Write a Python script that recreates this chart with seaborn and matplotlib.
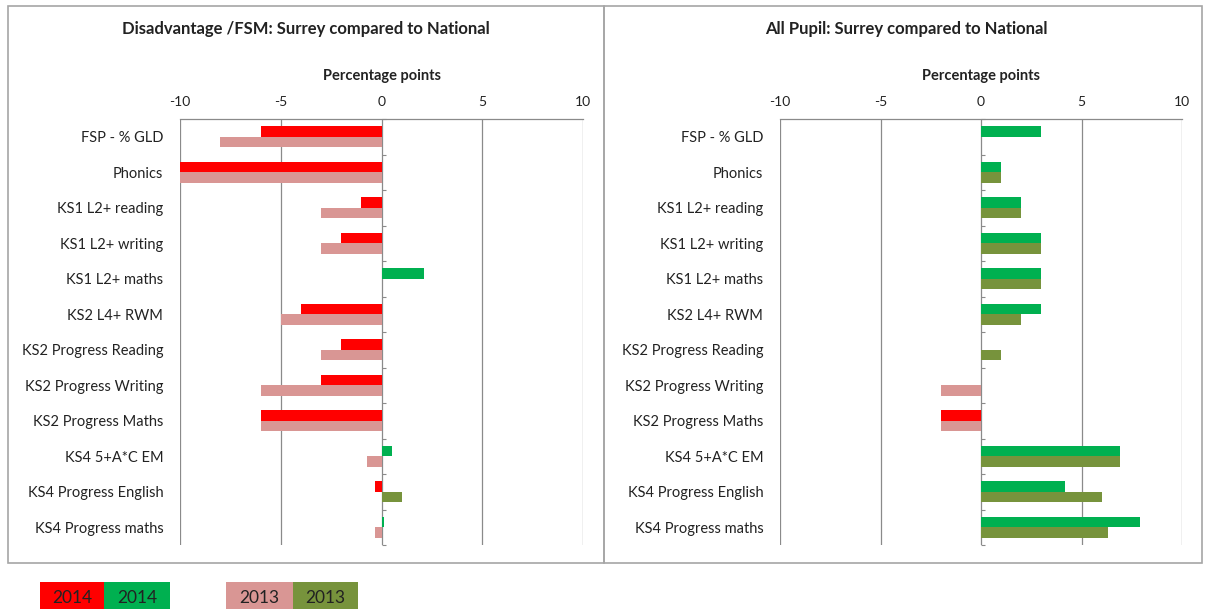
import pandas as pd
import matplotlib.pyplot as plt
import seaborn as sns
from matplotlib.patches import Rectangle

# categories and values (percentage points, Surrey minus National)
categories = ['FSP - % GLD', 'Phonics', 'KS1 L2+ reading', 'KS1 L2+ writing',
              'KS1 L2+ maths', 'KS2 L4+ RWM', 'KS2 Progress Reading',
              'KS2 Progress Writing', 'KS2 Progress Maths', 'KS4 5+A*C EM',
              'KS4 Progress English', 'KS4 Progress maths']

fsm_2014 = [-6, -10, -1, -2, 2.1, -4, -2, -3, -6, 0.5, -0.3, 0.1]
fsm_2013 = [-8, -10, -3, -3, 0, -5, -3, -6, -6, -0.7, 1.0, -0.3]

all_2014 = [3, 1, 2, 3, 3, 3, 0, 0, -2, 6.9, 4.2, 7.9]
all_2013 = [0, 1, 2, 3, 3, 2, 1, -2, -2, 6.9, 6.0, 6.3]

years = ['2014', '2013']
x_ticks = [-10, -5, 0, 5, 10]

# colours: by year and sign
neg_colors = {'2014': '#FF0000', '2013': '#D99694'}
pos_colors = {'2014': '#00B050', '2013': '#77933C'}

sns.set_style('white')
plt.rcParams['font.family'] = ['Lato', 'DejaVu Sans']
plt.rcParams['axes.unicode_minus'] = False

W, H = 1210, 609
fig = plt.figure(figsize=(W / 100, H / 100), dpi=100)
GREY = '#8a8a8a'
TXT = '#222222'


def fx(px):
    return px / W


def fy(py):
    return 1 - py / H


def make_df(v14, v13):
    rows = []
    for c, a, b in zip(categories, v14, v13):
        rows.append({'category': c, 'year': '2014', 'value': a})
        rows.append({'category': c, 'year': '2013', 'value': b})
    return pd.DataFrame(rows)


def draw_panel(ax, df):
    sns.barplot(data=df, y='category', x='value', hue='year', hue_order=years,
                order=categories, orient='h', dodge=True, width=0.6,
                ax=ax, legend=False, errorbar=None, saturation=1)
    # recolour each bar by its sign
    for year, cont in zip(years, ax.containers):
        for bar in cont:
            w = bar.get_width()
            bar.set_facecolor(pos_colors[year] if w > 0 else neg_colors[year])
            bar.set_edgecolor('none')

    ax.set_xlim(-10, 10)
    ax.set_ylim(len(categories) - 0.5, -0.5)
    ax.set_xticks(x_ticks)
    ax.xaxis.tick_top()
    ax.set_xlabel('')
    ax.set_ylabel('')
    ax.tick_params(axis='x', length=0, labelsize=10, colors=TXT, pad=8)
    ax.tick_params(axis='y', length=0, labelsize=10.5, colors=TXT, pad=12)
    ax.grid(axis='x', color=GREY, linewidth=0.9)
    ax.grid(axis='y', visible=False)
    ax.set_axisbelow(True)
    for s in ['bottom', 'left', 'right']:
        ax.spines[s].set_visible(False)
    ax.spines['top'].set_color(GREY)
    ax.spines['top'].set_linewidth(0.9)

    # category axis crossing at zero with small ticks between categories
    sec = ax.secondary_yaxis(0.5)
    sec.set_yticks([i + 0.5 for i in range(-1, len(categories))])
    sec.set_yticklabels([])
    sec.tick_params(axis='y', length=3, width=0.8, color=GREY, direction='out')
    for s in sec.spines:
        sec.spines[s].set_color(GREY)
        sec.spines[s].set_linewidth(0.9)
        if s != 'left':
            sec.spines[s].set_visible(False)


TOP, BOTTOM = 119, 545
ax1 = fig.add_axes([fx(180), fy(BOTTOM), fx(583 - 180), fy(TOP) - fy(BOTTOM)])
ax2 = fig.add_axes([fx(780), fy(BOTTOM), fx(1182 - 780), fy(TOP) - fy(BOTTOM)])

draw_panel(ax1, make_df(fsm_2014, fsm_2013))
draw_panel(ax2, make_df(all_2014, all_2013))

# titles and axis captions
fig.text(fx(306), fy(29), 'Disadvantage /FSM: Surrey compared to National',
         ha='center', va='center', fontsize=12, fontweight='bold', color=TXT)
fig.text(fx(906), fy(29), 'All Pupil: Surrey compared to National',
         ha='center', va='center', fontsize=12, fontweight='bold', color=TXT)
for cx in [(180 + 583) / 2, (780 + 1182) / 2]:
    fig.text(fx(cx), fy(76), 'Percentage points', ha='center', va='center',
             fontsize=10.5, fontweight='bold', color=TXT)

# panel frames
for x0, x1 in [(8, 604), (604, 1202)]:
    fig.add_artist(Rectangle((fx(x0), fy(563)), fx(x1 - x0), fy(6) - fy(563),
                             transform=fig.transFigure, fill=False,
                             edgecolor='#a6a6a6', linewidth=1.2))

# colour key below the panels
key = [(40, 104, '#FF0000', '2014'), (104, 170, '#00B050', '2014'),
       (226, 293, '#D99694', '2013'), (293, 358, '#77933C', '2013')]
for x0, x1, col, txt in key:
    fig.add_artist(Rectangle((fx(x0), fy(609)), fx(x1 - x0), fy(582) - fy(609),
                             transform=fig.transFigure, facecolor=col,
                             edgecolor='none'))
    fig.text(fx((x0 + x1) / 2), fy(598), txt, ha='center', va='center',
             fontsize=12.5, color=TXT)

fig.savefig('out.png', dpi=100)
